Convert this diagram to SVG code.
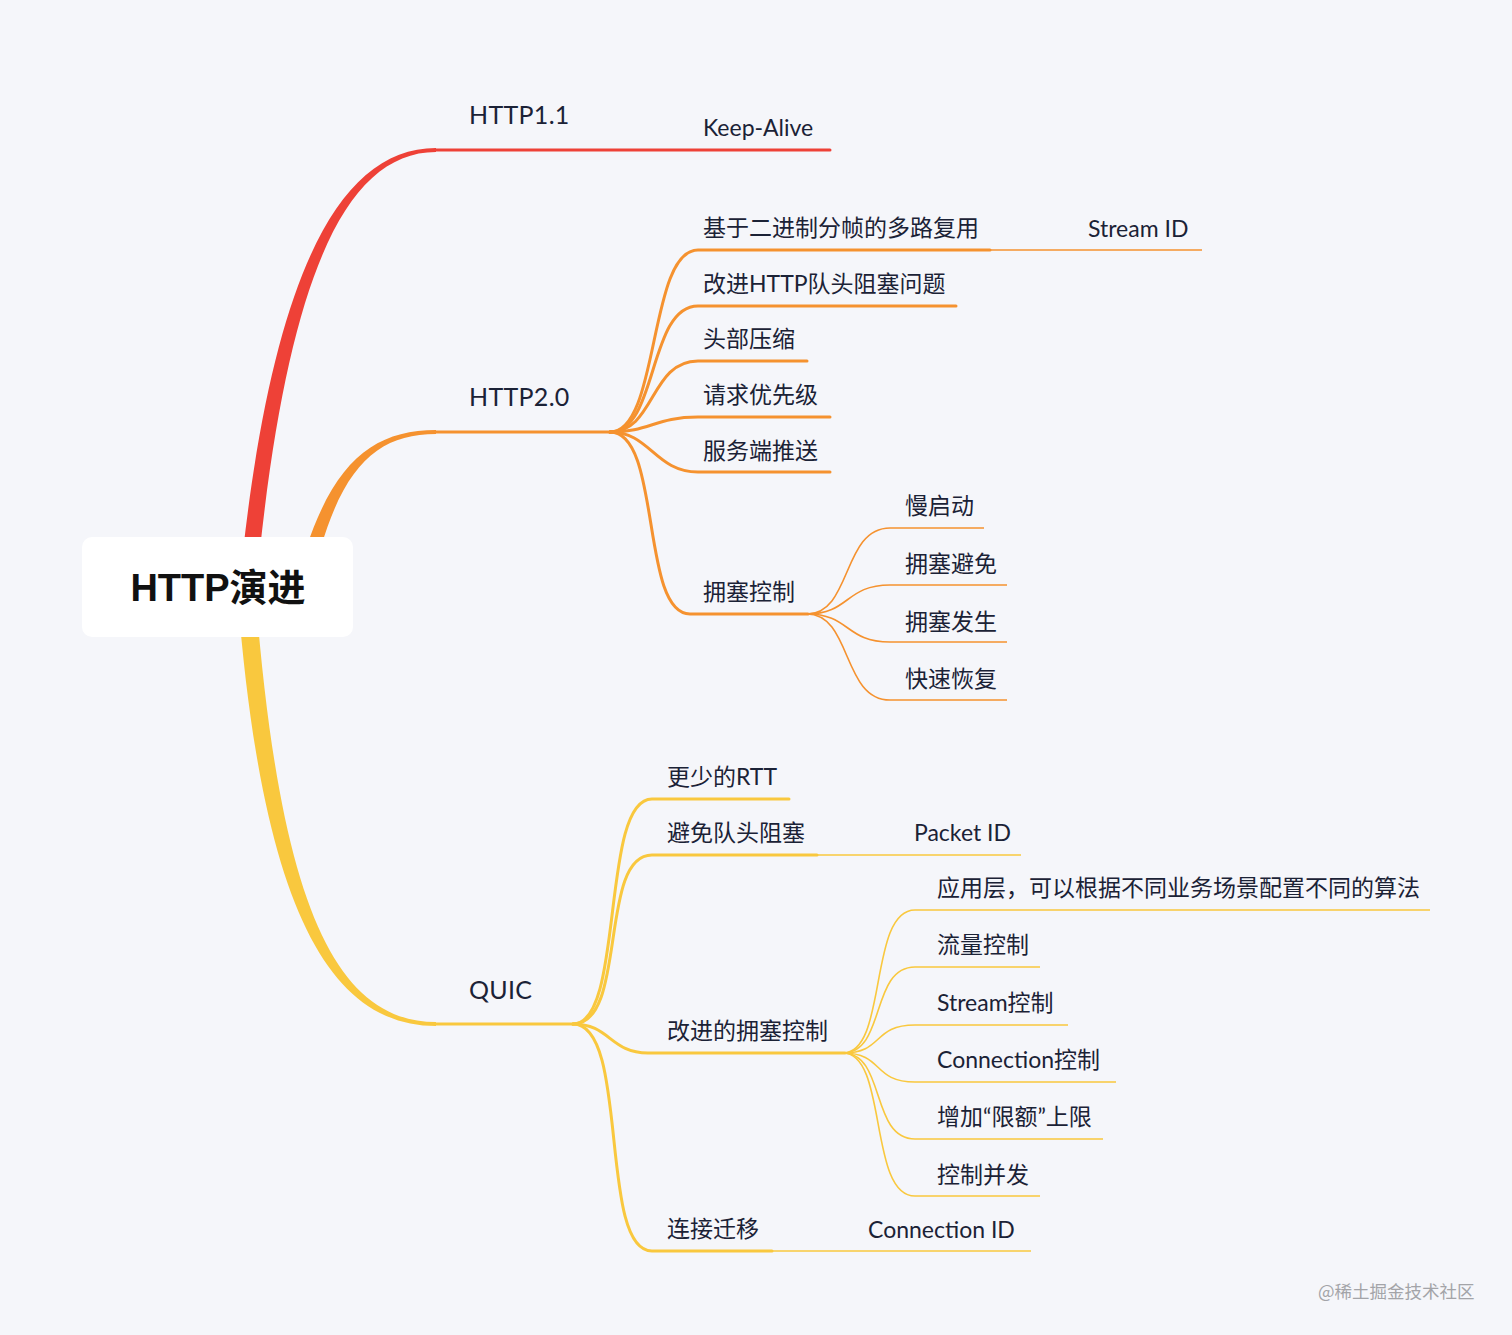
<svg xmlns="http://www.w3.org/2000/svg" width="1512" height="1335" viewBox="0 0 1512 1335">
<style>
.t{font-family:Lato,"Noto Sans CJK SC",sans-serif;fill:#1b2236}
.l1{font-size:25px;letter-spacing:0.3px}
.l2{font-size:23px}
.root{font-family:"Liberation Sans","Noto Sans CJK SC",sans-serif;font-weight:bold;font-size:38px;fill:#111}
.r{stroke:#ee4137;fill:none}
.o{stroke:#f5922f;fill:none}
.y{stroke:#f9c83e;fill:none}
.w2{stroke-width:3;stroke-linecap:round}
.w3{stroke-width:1.6}
.wm{font-family:"Noto Sans CJK SC",sans-serif;font-size:17.5px;fill:#a3a4a8}
</style>
<rect width="1512" height="1335" fill="#f5f6fa"/>
<g id="connectors">
  <path d="M238,600 C266,300 330,148 436,148 L436,152 C338,152 282,300 255,600 Z" fill="#ee4137"/>
  <path d="M292,600 C322,470 366,430 436,430 L436,434 C372,434 334,472 308,600 Z" fill="#f5922f"/>
  <path d="M238,600 C262,900 326,1026 436,1026 L436,1022 C334,1022 280,900 256,600 Z" fill="#f9c83e"/>
  <path class="r w2" d="M435,150 H830"/>
  <path class="o w2" d="M435,432 H610"/>
  <path class="o w2" d="M610,432 C660,432 648,250 698,250 H990"/>
  <path class="o w3" d="M990,250 H1202"/>
  <path class="o w2" d="M610,432 C658,432 648,306 698,306 H956"/>
  <path class="o w2" d="M610,432 C655,432 650,361 698,361 H807"/>
  <path class="o w2" d="M610,432 C650,432 655,417 698,417 H830"/>
  <path class="o w2" d="M610,432 C650,432 655,472 698,472 H830"/>
  <path class="o w2" d="M610,432 C662,432 640,614 690,614 H808"/>
  <path class="o w3" d="M807,614 C852,614 842,528 890,528 H984"/>
  <path class="o w3" d="M807,614 C850,614 845,585 890,585 H1007"/>
  <path class="o w3" d="M807,614 C850,614 845,642 890,642 H1007"/>
  <path class="o w3" d="M807,614 C852,614 842,700 890,700 H1007"/>
  <path class="y w2" d="M435,1024 H573"/>
  <path class="y w2" d="M573,1024 C625,1024 600,799 652,799 H789"/>
  <path class="y w2" d="M573,1024 C628,1024 598,855 652,855 H817"/>
  <path class="y w3" d="M817,855 H1021"/>
  <path class="y w2" d="M573,1024 C610,1024 610,1053 648,1053 H845"/>
  <path class="y w2" d="M573,1024 C630,1024 598,1251 652,1251 H772"/>
  <path class="y w3" d="M772,1251 H1031"/>
  <path class="y w3" d="M843,1053 C888,1053 868,910 915,910 H1430"/>
  <path class="y w3" d="M843,1053 C886,1053 870,967 915,967 H1040"/>
  <path class="y w3" d="M843,1053 C884,1053 872,1025 915,1025 H1068"/>
  <path class="y w3" d="M843,1053 C884,1053 872,1082 915,1082 H1116"/>
  <path class="y w3" d="M843,1053 C886,1053 870,1139 915,1139 H1103"/>
  <path class="y w3" d="M843,1053 C888,1053 868,1196 915,1196 H1040"/>
</g>
<g id="root">
  <rect x="82" y="537" width="271" height="100" rx="10" fill="#ffffff"/>
  <text class="root" x="218" y="601" text-anchor="middle">HTTP演进</text>
</g>
<g id="n-http11"><text class="t l1" x="469" y="124">HTTP1.1</text></g>
<g id="n-keepalive"><text class="t l2" x="703" y="136">Keep-Alive</text></g>
<g id="n-http20"><text class="t l1" x="469" y="406">HTTP2.0</text></g>
<g id="n-mux"><text class="t l2" x="703" y="236">基于二进制分帧的多路复用</text></g>
<g id="n-streamid"><text class="t l2" x="1088" y="237">Stream ID</text></g>
<g id="n-hol"><text class="t l2" x="703" y="292">改进HTTP队头阻塞问题</text></g>
<g id="n-hpack"><text class="t l2" x="703" y="347">头部压缩</text></g>
<g id="n-prio"><text class="t l2" x="703" y="403">请求优先级</text></g>
<g id="n-push"><text class="t l2" x="703" y="459">服务端推送</text></g>
<g id="n-cc"><text class="t l2" x="703" y="600">拥塞控制</text></g>
<g id="n-ss"><text class="t l2" x="905" y="514">慢启动</text></g>
<g id="n-ca"><text class="t l2" x="905" y="572">拥塞避免</text></g>
<g id="n-cf"><text class="t l2" x="905" y="630">拥塞发生</text></g>
<g id="n-fr"><text class="t l2" x="905" y="687">快速恢复</text></g>
<g id="n-quic"><text class="t l1" x="469" y="999">QUIC</text></g>
<g id="n-rtt"><text class="t l2" x="667" y="785">更少的RTT</text></g>
<g id="n-avoid"><text class="t l2" x="667" y="841">避免队头阻塞</text></g>
<g id="n-packetid"><text class="t l2" x="914" y="841">Packet ID</text></g>
<g id="n-qcc"><text class="t l2" x="667" y="1039">改进的拥塞控制</text></g>
<g id="n-app"><text class="t l2" x="937" y="896">应用层，可以根据不同业务场景配置不同的算法</text></g>
<g id="n-flow"><text class="t l2" x="937" y="953">流量控制</text></g>
<g id="n-streamctl"><text class="t l2" x="937" y="1011">Stream控制</text></g>
<g id="n-connctl"><text class="t l2" x="937" y="1068">Connection控制</text></g>
<g id="n-quota"><text class="t l2" x="937" y="1125">增加“限额”上限</text></g>
<g id="n-conc"><text class="t l2" x="937" y="1183">控制并发</text></g>
<g id="n-migr"><text class="t l2" x="667" y="1237">连接迁移</text></g>
<g id="n-connid"><text class="t l2" x="868" y="1238">Connection ID</text></g>
<text class="wm" x="1318" y="1298">@稀土掘金技术社区</text>
</svg>
